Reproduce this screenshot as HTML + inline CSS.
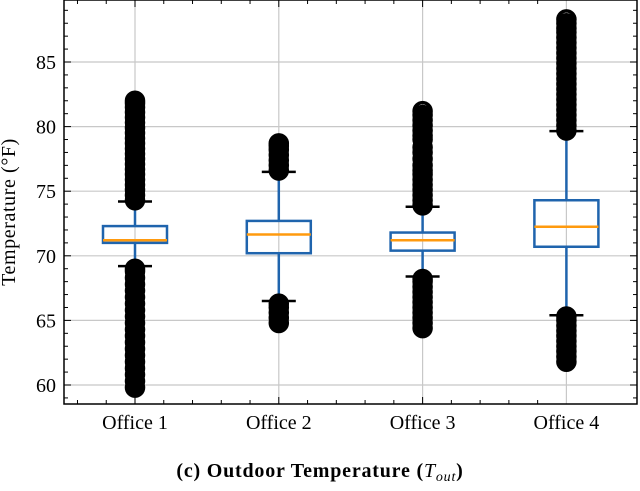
<!DOCTYPE html>
<html><head><meta charset="utf-8"><style>
body{margin:0;background:#fff;}
svg text{font-family:"Liberation Serif",serif;fill:#000;}
</style></head><body>
<svg id="chart" width="640" height="486" viewBox="0 0 640 486">
<g id="grid"></g>
<g id="plot"></g>
<g id="axes"></g>
<text x="15" y="212" font-size="20" text-anchor="middle" letter-spacing="0.6" transform="rotate(-90 15 212)">Temperature (°F)</text>
<text x="320" y="477" font-size="20" text-anchor="middle" letter-spacing="0.8"><tspan font-weight="bold">(c) Outdoor Temperature (</tspan><tspan font-style="italic">T</tspan><tspan font-style="italic" font-size="14" dy="4">out</tspan><tspan font-weight="bold" dy="-4">)</tspan></text>
</svg>
<script>
const categories=["Office 1","Office 2","Office 3","Office 4"];
const q1=[71.0,70.2,70.4,70.7];
const q3=[72.3,72.7,71.8,74.3];
const medians=[71.2,71.65,71.2,72.25];
const whiskerLow=[69.2,66.5,68.4,65.4];
const whiskerHigh=[74.2,76.5,73.8,79.65];
const outliersLow=[
 [59.8,60.3,60.8,61.3,61.8,62.3,62.8,63.3,63.8,64.3,64.8,65.3,65.8,66.3,66.8,67.3,67.8,68.3,68.8,69.0],
 [64.8,65.2,65.6,66.0,66.3],
 [64.4,64.8,65.2,65.6,66.0,66.4,66.8,67.2,67.6,68.0,68.2],
 [61.8,62.2,62.6,63.0,63.4,63.8,64.2,64.6,65.0,65.3]];
const outliersHigh=[
 [74.3,74.7,75.1,75.5,75.9,76.3,76.7,77.1,77.5,77.9,78.3,78.7,79.1,79.5,79.9,80.3,80.7,81.1,81.5,81.8,82.0],
 [76.6,77.0,77.4,77.8,78.2,78.5,78.7],
 [73.9,74.3,74.7,75.1,75.5,75.9,76.3,76.6,77.0,77.5,78.0,78.4,79.0,79.3,79.7,80.1,80.5,80.9,81.2],
 [79.7,80.1,80.5,80.9,81.3,81.7,82.1,82.5,82.9,83.3,83.7,84.1,84.5,84.9,85.3,85.7,86.1,86.5,86.9,87.3,87.6,88.0,88.3]];
const yTicks=[60,65,70,75,80,85];

const L=64,R=637,T=0,B=404;
const y=v=>385-(v-60)*12.92;
const x=i=>135+i*143.8;
const NS="http://www.w3.org/2000/svg";
function mk(tag,attrs,parent){const e=document.createElementNS(NS,tag);for(const k in attrs)e.setAttribute(k,attrs[k]);parent.appendChild(e);return e;}
const grid=document.getElementById('grid'),plot=document.getElementById('plot'),axes=document.getElementById('axes');
yTicks.forEach(t=>{
 const g=mk('line',{x1:L,x2:R,y1:y(t),y2:y(t),stroke:'#c8c8c8','stroke-width':1.2},grid);
 
 
 const tx=mk('text',{x:L-8,y:y(t)+7,'font-size':20,'text-anchor':'end'},axes);
 tx.textContent=t;
 
 
});
for(let v=59;v<=89;v++){
 const len=(v%5===0)?7:4;
 if(y(v)<T||y(v)>B)continue;
 mk('line',{x1:L,x2:L+len,y1:y(v),y2:y(v),stroke:'#000','stroke-width':1},axes);
 mk('line',{x1:R,x2:R-len,y1:y(v),y2:y(v),stroke:'#000','stroke-width':1},axes);
}
for(let k=-2;k<=14;k++){
 const xx=x(0)+k*143.8/5;
 if(xx<=L||xx>=R)continue;
 const len=(k%5===0)?7:4;
 mk('line',{x1:xx,x2:xx,y1:B,y2:B-len,stroke:'#000','stroke-width':1},axes);
 mk('line',{x1:xx,x2:xx,y1:T,y2:T+len,stroke:'#000','stroke-width':1},axes);
}
categories.forEach((c,i)=>{
 const cx=x(i);
 const gl=mk('line',{x1:cx,x2:cx,y1:T,y2:B,stroke:'#c8c8c8','stroke-width':1.2},grid);
 
 
 const g=mk('g',{},plot);
 
 
 mk('line',{x1:cx,x2:cx,y1:y(q3[i]),y2:y(whiskerHigh[i]),stroke:'#1f64ad','stroke-width':2.5},g);
 mk('line',{x1:cx,x2:cx,y1:y(q1[i]),y2:y(whiskerLow[i]),stroke:'#1f64ad','stroke-width':2.5},g);
 [whiskerHigh[i],whiskerLow[i]].forEach(w=>mk('line',{x1:cx-17,x2:cx+17,y1:y(w),y2:y(w),stroke:'#000','stroke-width':2.5},g));
 const all=outliersLow[i].concat(outliersHigh[i]);
 all.forEach((o,j)=>{
  const top=(o===Math.max(...all));
  const p=mk('circle',{cx:cx,cy:y(o),r:8.5,fill:top?'none':'#000',stroke:'#000','stroke-width':3.5},g);
  
  
 });
 mk('rect',{x:cx-32,y:y(q3[i]),width:64,height:y(q1[i])-y(q3[i]),fill:'none',stroke:'#1f64ad','stroke-width':2.5},g);
 mk('line',{x1:cx-32,x2:cx+32,y1:y(medians[i]),y2:y(medians[i]),stroke:'#ff9a0e','stroke-width':2.5},g);
 const t=mk('text',{x:cx,y:429,'font-size':20,'text-anchor':'middle'},axes);
 t.textContent=c;
 
 
});
const fr=mk('rect',{x:L,y:T,width:R-L,height:B-T,fill:'none',stroke:'#000','stroke-width':1.5},axes);


</script>
</body></html>
